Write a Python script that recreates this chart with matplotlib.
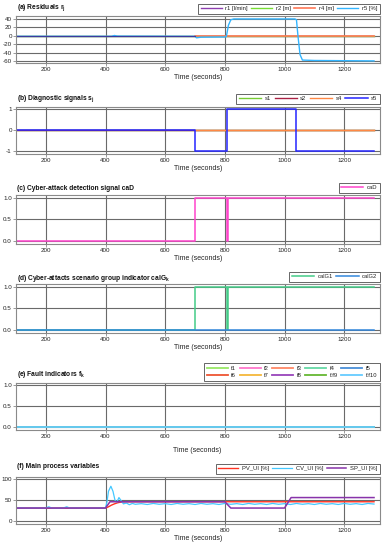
import matplotlib
matplotlib.use("Agg")
import matplotlib.pyplot as plt

plt.rcParams['font.family'] = ['Liberation Sans', 'DejaVu Sans']
plt.rcParams['mathtext.fontset'] = 'custom'
plt.rcParams['mathtext.rm'] = 'Liberation Sans'
plt.rcParams['mathtext.bf'] = 'Liberation Sans:bold'
plt.rcParams['mathtext.it'] = 'Liberation Sans:italic'
plt.rcParams['axes.unicode_minus'] = False

# ---------------- data ----------------
t_r5 = [100, 420, 430, 440, 700, 705, 720, 800, 805, 812, 820, 830, 1035, 1040, 1045, 1052, 1060, 1100, 1200, 1300]
r5 = [-1.5, -1.5, 0.5, -1.0, -1.5, -5.0, -3.5, -3.0, -2.0, 25, 38, 40, 40, 38, 0, -45, -58, -59, -59.5, -60]
t_flat = [100, 1300]
r1 = [0, 0]
r2 = [0, 0]
r4 = [0, 0]

t_s5 = [100, 700, 700, 808, 808, 1040, 1040, 1300]
s5 = [0, 0, -1, -1, 1, 1, -1, -1]
s1 = [0, 0]
s2 = [0, 0]
s4 = [0, 0]

t_caD = [100, 700, 700, 806, 806, 810, 810, 1300]
caD = [0, 0, 1, 1, 0, 0, 1, 1]
calG1 = [0, 0, 1, 1, 0, 0, 1, 1]
calG2 = [0, 0]

f_labels = ['f1', 'f2', 'f3', 'f4', 'f5', 'f6', 'f7', 'f8', 'f.f9', 'f.f10']
f_colors = ['#99e866', '#ff77cc', '#ff8866', '#66d9a6', '#4a90d9',
            '#ee5533', '#f5b73a', '#9944bb', '#66b833', '#66ccff']

t_sp = [100, 400, 415, 800, 820, 1000, 1022, 1300]
sp = [30, 30, 45, 45, 30, 30, 55, 55]
t_pv = [100, 400, 410, 420, 430, 440, 450, 460, 480, 1300]
pv = [30, 30, 33, 37, 40, 42.5, 44, 44.8, 45, 45]
t_cv = [100, 120, 140, 160, 180, 200, 210, 220, 240, 260, 270, 280, 300, 320, 340, 360, 380, 400,
        405, 410, 418, 425, 432, 438, 445, 452, 460, 470, 480, 490, 500, 520, 540, 560, 580, 600,
        620, 640, 660, 680, 700, 720, 740, 760, 780, 800, 820, 840, 860, 880, 900, 920, 940, 960,
        980, 1000, 1020, 1040, 1060, 1080, 1100, 1120, 1140, 1160, 1180, 1200, 1220, 1240, 1260,
        1280, 1300]
cv = [30, 30.5, 29.5, 30.5, 29.8, 30.2, 33, 30, 29.6, 30.4, 33, 30, 30.3, 29.7, 30.4, 29.8, 30.3, 30,
      45, 70, 82, 70, 48, 44, 55, 48, 40, 42, 38, 41, 39, 40.5, 38.5, 41, 39, 40.5,
      38.5, 41, 39, 40.5, 38.5, 41, 39, 40.5, 38.5, 41, 39, 40.5, 38.5, 41, 39, 40.5, 38.5, 41,
      39, 40.5, 38.5, 41, 39, 40.5, 38.5, 41, 39, 40.5, 38.5, 41, 39, 40.5, 38.5,
      41, 39.5]

xticks = [200, 400, 600, 800, 1000, 1200]

# ---------------- layout ----------------
W, H = 383, 550
fig = plt.figure(figsize=(W / 100, H / 100), dpi=100)

def add_ax(top, bottom, left=16, right=380):
    return fig.add_axes([left / W, 1 - bottom / H, (right - left) / W, (bottom - top) / H])

GRID = '#6a6a6a'
SPINE = '#8a8a8a'
TXT = '#222222'

def style(ax, ylim, yticks, title, title_y, xlabel=True):
    ax.set_xlim(100, 1320)
    ax.set_ylim(*ylim)
    ax.set_xticks(xticks)
    ax.set_yticks(yticks)
    ax.grid(True, color=GRID, lw=0.8)
    ax.set_axisbelow(True)
    for s in ax.spines.values():
        s.set_color(SPINE)
        s.set_linewidth(0.8)
    ax.tick_params(labelsize=4.5, length=2, width=0.6, color=SPINE, pad=1, labelcolor=TXT)
    if xlabel:
        ax.set_xlabel('Time (seconds)', fontsize=5, labelpad=1.5, color=TXT)
    fig.text(17 / W, 1 - title_y / H, title, fontsize=4.8, fontweight='bold',
             ha='left', va='center', color='#111111')

def leg(ax, ncol, bottom_px, handles=None, labels=None, handlelength=3.8, colsp=0.6):
    pos = ax.get_position()
    yb = (1 - bottom_px / H - pos.y0) / pos.height
    kw = dict(loc='lower right', bbox_to_anchor=(1.0, yb), ncol=ncol, fontsize=4.2,
              frameon=True, fancybox=False, edgecolor='#666666', framealpha=1,
              handlelength=handlelength, columnspacing=colsp, handletextpad=0.6,
              borderpad=0.45, labelspacing=0.4, borderaxespad=0)
    if handles is not None:
        lg = ax.legend(handles, labels, **kw)
    else:
        lg = ax.legend(**kw)
    lg.get_frame().set_linewidth(0.7)
    for t in lg.get_texts():
        t.set_color(TXT)
    return lg

# (a)
ax = add_ax(16, 63)
ax.plot(t_flat, r1, color='#8e3fb0', lw=1, label='r1 [l/min]')
ax.plot(t_flat, r2, color='#77dd33', lw=1, label='r2 [m]')
ax.plot([700, 1300], [0, 0], color='#ff7755', lw=1.2, label='r4 [m]')
ax.plot(t_r5, r5, color='#33b5ff', lw=1, label='r5 [%]')
ax.plot([100, 700], [0, 0], color='#3a3aa0', lw=0.8)
style(ax, (-65, 47), [-60, -40, -20, 0, 20, 40], '(a) Residuals r$_\\mathbf{j}$', 8)
leg(ax, 4, 14, handlelength=3.6)

# (b)
ax = add_ax(107, 154)
ax.plot(t_flat, s1, color='#77cc33', lw=1, label='s1')
ax.plot(t_flat, s2, color='#aa2244', lw=1, label='s2')
ax.plot([700, 1300], [0, 0], color='#ff8844', lw=1, label='s4')
ax.plot(t_s5, s5, color='#2525ff', lw=1.1, label='s5')
style(ax, (-1.12, 1.1), [-1, 0, 1], '(b) Diagnostic signals s$_\\mathbf{j}$', 99)
leg(ax, 4, 104)

# (c)
ax = add_ax(195, 244)
ax.plot(t_caD, caD, color='#ff44cc', lw=1.1, label='caD')
style(ax, (-0.08, 1.06), [0, 0.5, 1], '(c) Cyber-attack detection signal caD', 188)
leg(ax, 1, 193)

# (d)
ax = add_ax(284, 333)
ax.plot(t_caD, calG1, color='#44cc88', lw=1.1, label='calG1')
ax.plot(t_flat, calG2, color='#3388dd', lw=1.1, label='calG2')
style(ax, (-0.08, 1.06), [0, 0.5, 1], '(d) Cyber-attacts scenario group indicator calG$_\\mathbf{k}$', 278)
leg(ax, 2, 282)

# (e)
ax = add_ax(383, 430)
lines = []
for lab, col in zip(f_labels, f_colors):
    lines += ax.plot(t_flat, [0, 0], color=col, lw=1.3, label=lab)
style(ax, (-0.08, 1.06), [0, 0.5, 1], '(e) Fault indicators f$_\\mathbf{k}$', 374, xlabel=False)
order = [0, 5, 1, 6, 2, 7, 3, 8, 4, 9]
leg(ax, 5, 381, handles=[lines[i] for i in order], labels=[f_labels[i] for i in order],
    handlelength=3.6, colsp=0.6)
fig.text(0.515, 1 - 450 / H, 'Time (seconds)', ha='center', va='center', fontsize=5, color=TXT)

# (f)
ax = add_ax(477, 524)
ax.plot(t_pv, pv, color='#ff3322', lw=1, label='PV_UI [%]')
ax.plot(t_cv, cv, color='#44c8ff', lw=0.9, label='CV_UI [%]')
ax.plot(t_sp, sp, color='#8833aa', lw=1.1, label='SP_UI [%]')
style(ax, (-8, 104), [0, 50, 100], '(f) Main process variables', 467)
leg(ax, 3, 474, handlelength=3.4)

fig.savefig('out.png', dpi=100, facecolor='white')
